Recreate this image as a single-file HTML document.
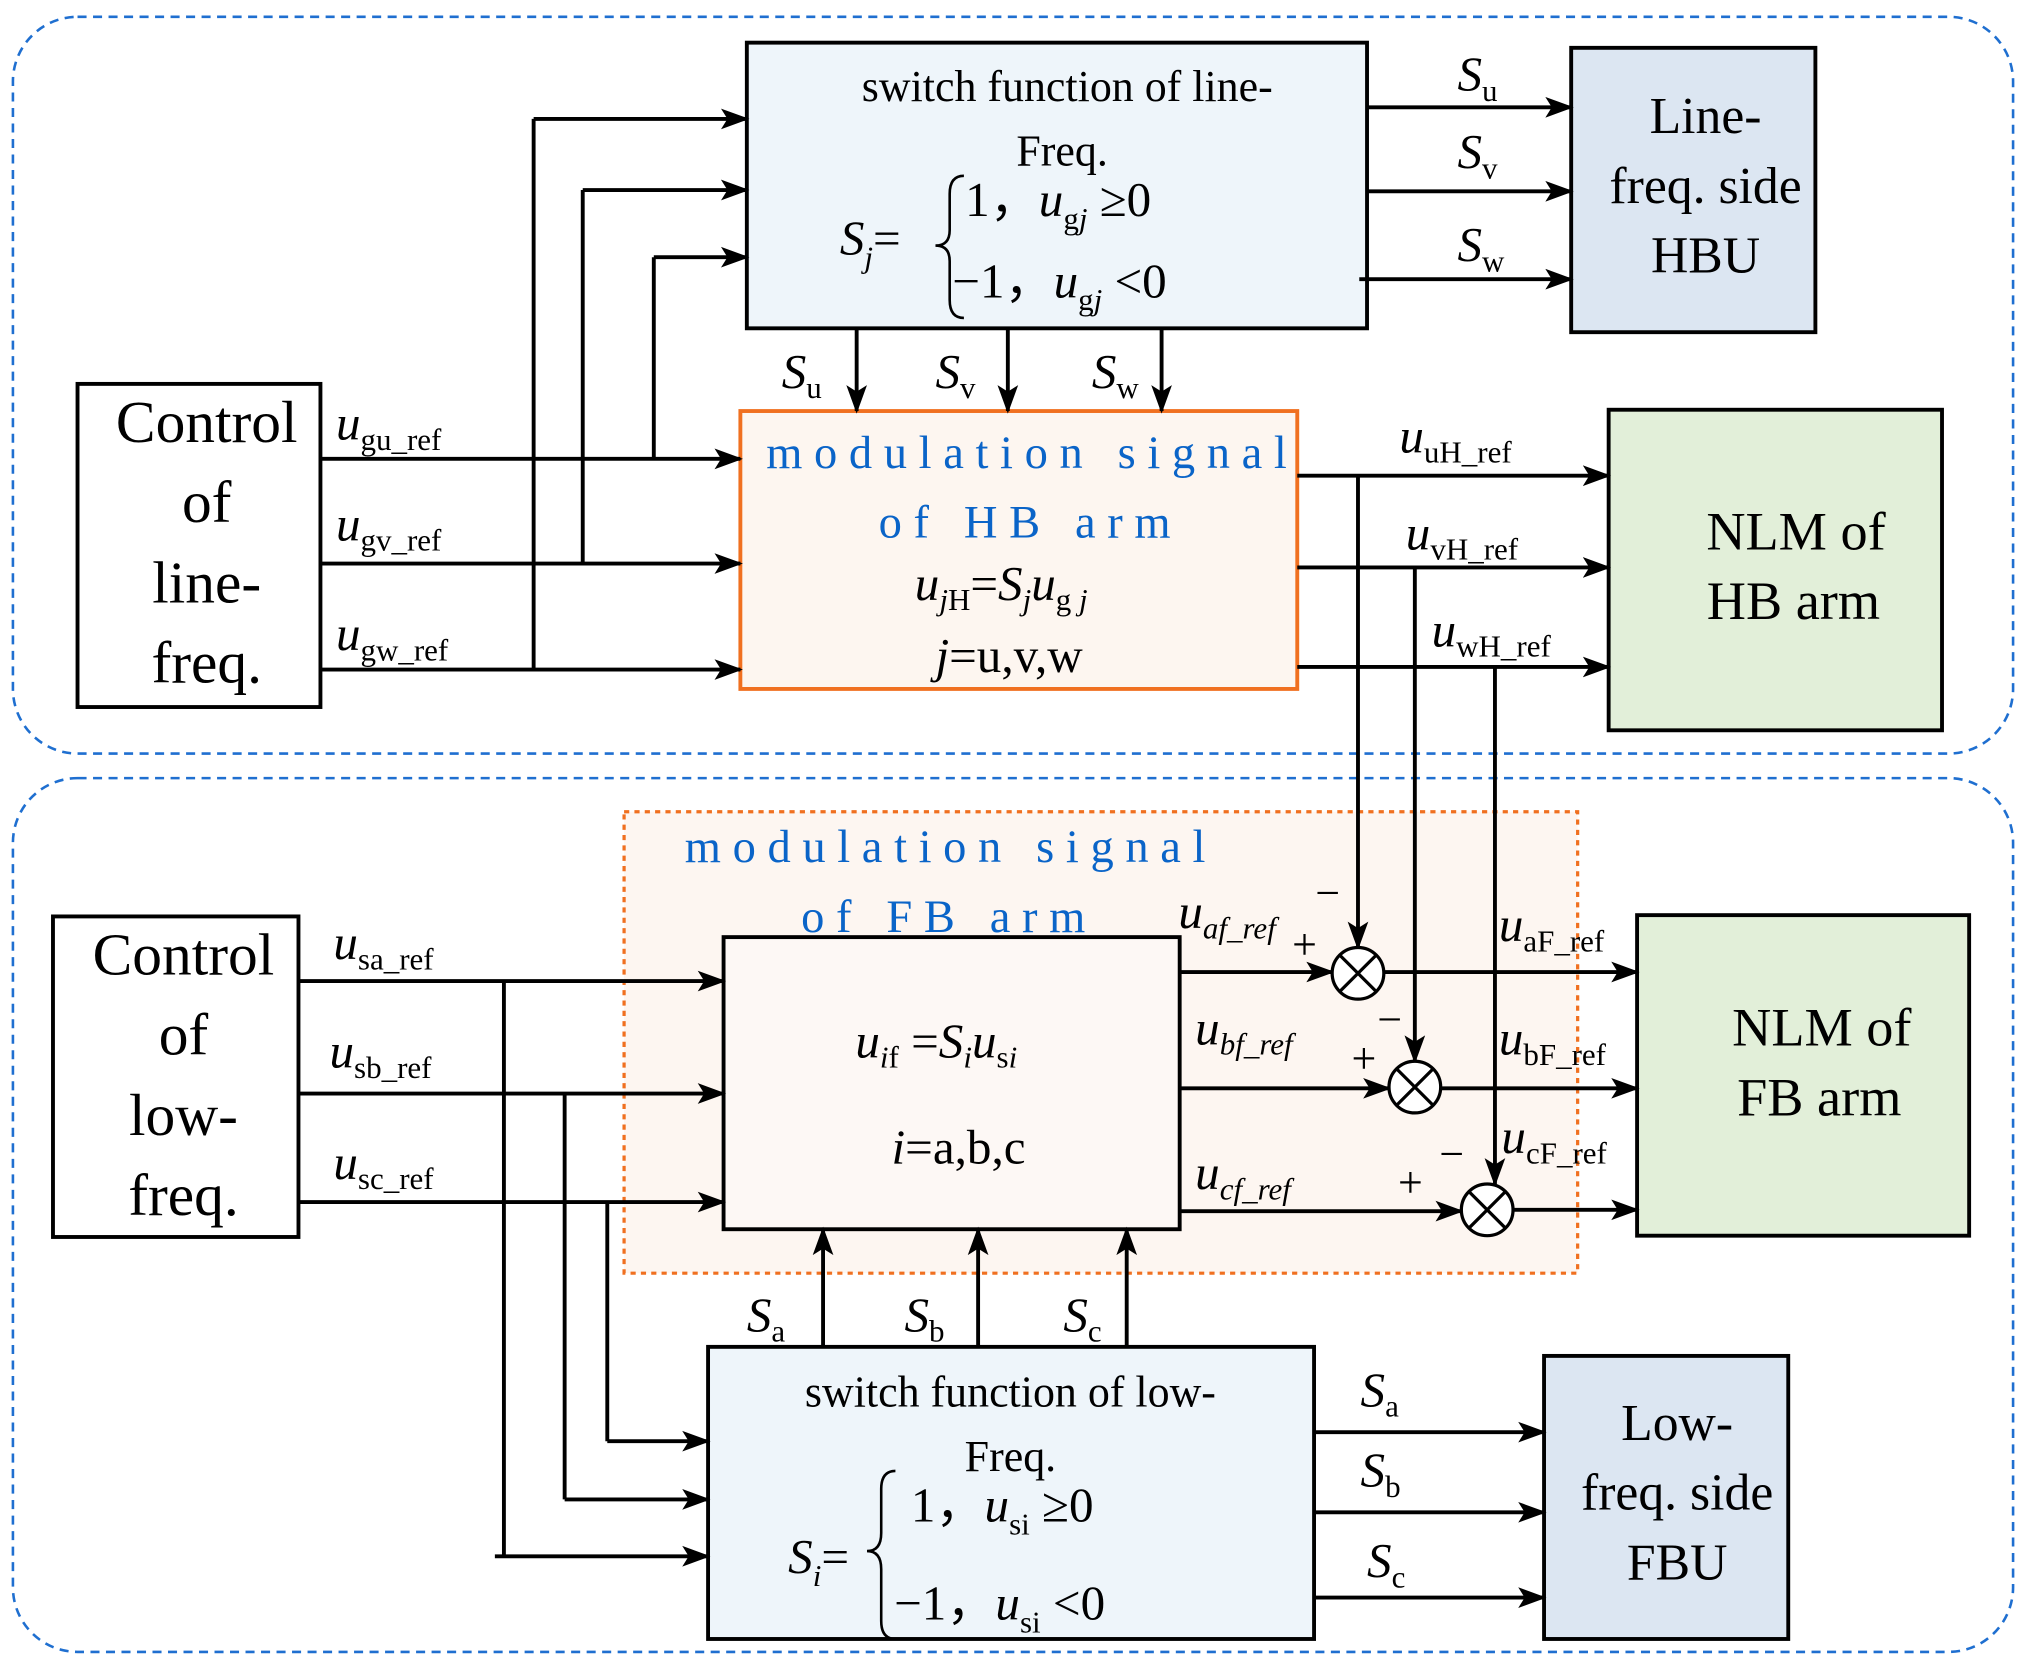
<!DOCTYPE html>
<html><head><meta charset="utf-8"><style>html,body{margin:0;padding:0;background:#fff}svg{display:block}
text{font-family:"Liberation Serif",serif;fill:#000}
.b{font-size:38px}.m{font-size:34px}.lab{font-size:38px;font-style:italic}.sub{font-size:24px}
.blue{fill:#0a64c8;font-size:36px;letter-spacing:9px;font-family:"Liberation Serif",serif}
</style></head><body>
<svg width="2026" height="1670" viewBox="0 0 1568 1292" preserveAspectRatio="none" xmlns="http://www.w3.org/2000/svg">
<defs><marker id="A" markerWidth="22" markerHeight="20" refX="20" refY="10" orient="auto" markerUnits="userSpaceOnUse"><path d="M0,2 L22,10 L0,18 L5,10z" fill="#000"/></marker></defs>
<g fill="none" stroke="#1f6fd0" stroke-width="2" stroke-dasharray="7,5">
<rect x="10" y="13" width="1548" height="570" rx="50"/>
<rect x="10" y="602" width="1548" height="676" rx="50"/></g>
<rect x="483" y="628" width="738" height="357" fill="#fdf6f1" stroke="#f07020" stroke-width="2.5" stroke-dasharray="4,4"/>
<g stroke="#000" stroke-width="3">
<rect x="60" y="297" width="188" height="250" fill="#fff"/>
<rect x="578" y="33" width="480" height="221" fill="#eef5fa"/>
<rect x="1216" y="37" width="189" height="220" fill="#dce6f2"/>
<rect x="1245" y="317" width="258" height="248" fill="#e2efd9"/>
<rect x="41" y="709" width="190" height="248" fill="#fff"/>
<rect x="560" y="725" width="353" height="226" fill="#fdf8f5"/>
<rect x="1267" y="708" width="257" height="248" fill="#e2efd9"/>
<rect x="548" y="1042" width="469" height="226" fill="#eef5fa"/>
<rect x="1195" y="1049" width="189" height="219" fill="#dce6f2"/>
</g>
<rect x="573" y="318" width="431" height="215" fill="#fdf6f0" stroke="#f07020" stroke-width="3"/>
<g stroke="#000" stroke-width="3" fill="none" marker-end="url(#A)">
<path d="M248,355H573"/><path d="M248,436H573"/><path d="M248,518H573"/>
<path d="M413,92H578"/><path d="M451,147H578"/><path d="M506,199H578"/>
<path d="M1058,83H1216"/><path d="M1058,148H1216"/><path d="M1052,216H1216"/>
<path d="M663,254V318"/><path d="M780,254V318"/><path d="M899,254V318"/>
<path d="M1004,368H1245"/><path d="M1004,439H1245"/><path d="M1004,516H1245"/>
<path d="M1051,368V733"/><path d="M1095,439V821"/><path d="M1157,516V916"/>
<path d="M913,752H1031"/><path d="M913,842H1075"/><path d="M913,937H1131"/>
<path d="M1071,752H1267"/><path d="M1115,842H1267"/><path d="M1171,936H1267"/>
<path d="M231,759H560"/><path d="M231,846H560"/><path d="M231,930H560"/>
<path d="M470,1115H548"/><path d="M437,1160H548"/><path d="M383,1204H548"/>
<path d="M637,1042V951"/><path d="M757,1042V951"/><path d="M872,1042V951"/>
<path d="M1017,1108H1195"/><path d="M1017,1170H1195"/><path d="M1017,1236H1195"/>
</g>
<g stroke="#000" stroke-width="3" fill="none">
<path d="M413,92V518"/><path d="M451,147V436"/><path d="M506,199V355"/>
<path d="M390,759V1204"/><path d="M437,846V1160"/><path d="M470,930V1115"/>
</g>
<g stroke="#000" stroke-width="2" fill="none">
<path d="M746,136 Q735,136 735,150 V178 Q735,190 724,190 Q735,190 735,202 V232 Q735,246 746,246"/>
<path d="M693,1138 Q682,1138 682,1152 V1186 Q682,1200 671,1200 Q682,1200 682,1214 V1254 Q682,1268 693,1268"/>
</g>
<g stroke="#000" stroke-width="2.5" fill="#fff">
<circle cx="1051" cy="753" r="20"/><circle cx="1095" cy="841" r="20"/><circle cx="1151" cy="936" r="20"/></g>
<g stroke="#000" stroke-width="2.5">
<path d="M1037,739l28,28M1065,739l-28,28"/><path d="M1081,827l28,28M1109,827l-28,28"/><path d="M1137,922l28,28M1165,922l-28,28"/></g>
<g class="b" text-anchor="middle">
<text x="160" y="342" font-size="46">Control</text><text x="160" y="404" font-size="46">of</text><text x="160" y="466" font-size="46">line-</text><text x="160" y="528" font-size="46">freq.</text>
<text x="142" y="754" font-size="46">Control</text><text x="142" y="816" font-size="46">of</text><text x="142" y="878" font-size="46">low-</text><text x="142" y="940" font-size="46">freq.</text>
<text x="1320" y="103" font-size="40">Line-</text><text x="1320" y="157" font-size="40">freq. side</text><text x="1320" y="211" font-size="40">HBU</text>
<text x="1298" y="1114" font-size="40">Low-</text><text x="1298" y="1168" font-size="40">freq. side</text><text x="1298" y="1222" font-size="40">FBU</text>
<text x="1390" y="425" font-size="42">NLM of</text><text x="1388" y="479" font-size="42">HB arm</text>
<text x="1410" y="809" font-size="42">NLM of</text><text x="1408" y="863" font-size="42">FB arm</text>
<text x="826" y="78" class="m">switch function of line-</text><text x="822" y="128" class="m">Freq.</text>
<text x="782" y="1088" class="m">switch function of low-</text><text x="782" y="1138" class="m">Freq.</text>
</g>
<text x="593" y="362" class="blue">modulation signal</text><text x="680" y="416" class="blue">of HB arm</text>
<text x="530" y="667" class="blue">modulation signal</text><text x="620" y="721" class="blue">of FB arm</text>
<g class="b">
<text x="650" y="197" font-style="italic">S<tspan class="sub" dy="10">j</tspan><tspan dy="-10" font-style="normal">=</tspan></text>
<text x="747" y="167">1，<tspan font-style="italic">u</tspan><tspan class="sub" dy="10">g<tspan font-style="italic">j</tspan></tspan><tspan dy="-10"> ≥0</tspan></text>
<text x="737" y="230">−1，<tspan font-style="italic">u</tspan><tspan class="sub" dy="10">g<tspan font-style="italic">j</tspan></tspan><tspan dy="-10"> &lt;0</tspan></text>
<text x="610" y="1217" font-style="italic">S<tspan class="sub" dy="10">i</tspan><tspan dy="-10" font-style="normal">=</tspan></text>
<text x="705" y="1177">1，<tspan font-style="italic">u</tspan><tspan class="sub" dy="10">si</tspan><tspan dy="-10"> ≥0</tspan></text>
<text x="692" y="1253">−1，<tspan font-style="italic">u</tspan><tspan class="sub" dy="10">si</tspan><tspan dy="-10"> &lt;0</tspan></text>
<text x="708" y="464" font-style="italic">u<tspan class="sub" dy="8">j<tspan font-style="normal">H</tspan></tspan><tspan dy="-8" font-style="normal">=</tspan>S<tspan class="sub" dy="8">j</tspan><tspan dy="-8">u</tspan><tspan class="sub" dy="8"><tspan font-style="normal">g</tspan> j</tspan></text>
<text x="724" y="520"><tspan font-style="italic">j</tspan>=u,v,w</text>
<text x="662" y="818" font-style="italic">u<tspan class="sub" dy="8">i<tspan font-style="normal">f</tspan></tspan><tspan dy="-8" font-style="normal"> =</tspan>S<tspan class="sub" dy="8">i</tspan><tspan dy="-8">u</tspan><tspan class="sub" dy="8"><tspan font-style="normal">s</tspan>i</tspan></text>
<text x="690" y="900"><tspan font-style="italic">i</tspan>=a,b,c</text>
</g>
<g class="lab">
<text x="260" y="340">u<tspan class="sub" font-style="normal" dy="8">gu_ref</tspan></text>
<text x="260" y="418">u<tspan class="sub" font-style="normal" dy="8">gv_ref</tspan></text>
<text x="260" y="503">u<tspan class="sub" font-style="normal" dy="8">gw_ref</tspan></text>
<text x="258" y="742">u<tspan class="sub" font-style="normal" dy="8">sa_ref</tspan></text>
<text x="255" y="826">u<tspan class="sub" font-style="normal" dy="8">sb_ref</tspan></text>
<text x="258" y="912">u<tspan class="sub" font-style="normal" dy="8">sc_ref</tspan></text>
<text x="1128" y="70">S<tspan class="sub" font-style="normal" dy="8">u</tspan></text>
<text x="1128" y="130">S<tspan class="sub" font-style="normal" dy="8">v</tspan></text>
<text x="1128" y="202">S<tspan class="sub" font-style="normal" dy="8">w</tspan></text>
<text x="605" y="300">S<tspan class="sub" font-style="normal" dy="8">u</tspan></text>
<text x="724" y="300">S<tspan class="sub" font-style="normal" dy="8">v</tspan></text>
<text x="845" y="300">S<tspan class="sub" font-style="normal" dy="8">w</tspan></text>
<text x="1083" y="350">u<tspan class="sub" font-style="normal" dy="8">uH_ref</tspan></text>
<text x="1088" y="425">u<tspan class="sub" font-style="normal" dy="8">vH_ref</tspan></text>
<text x="1108" y="500">u<tspan class="sub" font-style="normal" dy="8">wH_ref</tspan></text>
<text x="912" y="718">u<tspan class="sub" dy="8">af_ref</tspan></text>
<text x="925" y="808">u<tspan class="sub" dy="8">bf_ref</tspan></text>
<text x="925" y="920">u<tspan class="sub" dy="8">cf_ref</tspan></text>
<text x="1160" y="728">u<tspan class="sub" font-style="normal" dy="8">aF_ref</tspan></text>
<text x="1160" y="816">u<tspan class="sub" font-style="normal" dy="8">bF_ref</tspan></text>
<text x="1162" y="892">u<tspan class="sub" font-style="normal" dy="8">cF_ref</tspan></text>
<text x="578" y="1030">S<tspan class="sub" font-style="normal" dy="8">a</tspan></text>
<text x="700" y="1030">S<tspan class="sub" font-style="normal" dy="8">b</tspan></text>
<text x="823" y="1030">S<tspan class="sub" font-style="normal" dy="8">c</tspan></text>
<text x="1053" y="1088">S<tspan class="sub" font-style="normal" dy="8">a</tspan></text>
<text x="1053" y="1150">S<tspan class="sub" font-style="normal" dy="8">b</tspan></text>
<text x="1058" y="1220">S<tspan class="sub" font-style="normal" dy="8">c</tspan></text>
</g>
<g font-size="34">
<text x="1018" y="702">−</text><text x="1000" y="742">+</text>
<text x="1066" y="800">−</text><text x="1046" y="830">+</text>
<text x="1114" y="904">−</text><text x="1082" y="926">+</text></g>
</svg>
</body></html>
